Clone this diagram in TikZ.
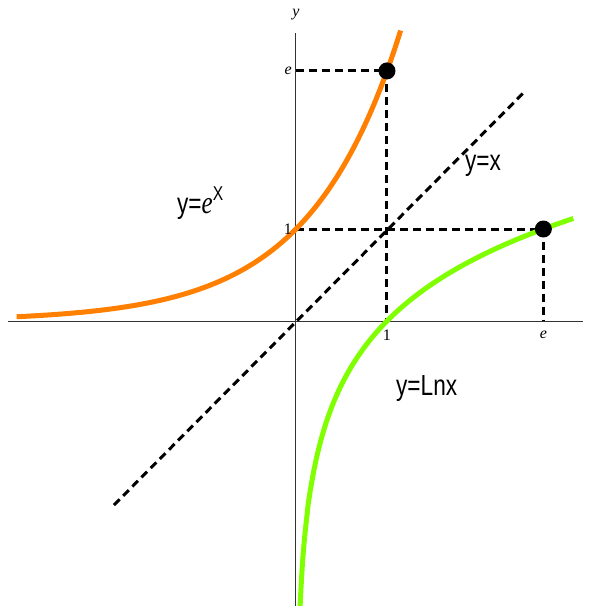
\documentclass[tikz,border=0pt]{standalone}
\usepackage{fontspec}
\setmainfont{Liberation Serif}
\newfontfamily\lblfont{Liberation Sans}
\definecolor{curveorange}{HTML}{FF7F00}
\definecolor{curvegreen}{HTML}{80FF00}
\tikzset{
  axisline/.style={line width=1pt, black!80},
  guide/.style={line width=3pt, dash pattern=on 8pt off 5pt, black},
  curveline/.style={line width=5pt, line cap=butt},
  pointdot/.style={circle, fill=black, inner sep=0pt, minimum size=17pt},
  ticklbl/.style={font=\fontsize{16}{16}\selectfont, inner sep=0pt},
  funclbl/.style={font=\fontsize{29}{29}\lblfont, xscale=0.78, anchor=base west, inner sep=0pt},
}
\begin{document}
\begin{tikzpicture}[x=91pt, y=92pt]
\useasboundingbox (-296pt,-285pt) rectangle (298pt,321pt);
\begin{scope}
\clip (-296pt,-285pt) rectangle (298pt,321pt);
% axes
\coordinate (xl) at (-288pt,0);
\coordinate (xr) at (287pt,0);
\coordinate (yb) at (0,-286pt);
\coordinate (yt) at (0,288pt);
\draw[axisline] (xl) -- (xr);
\draw[axisline] (yb) -- (yt);
% key points
\coordinate (O) at (0,0);
\coordinate (P1) at (1,2.71828);
\coordinate (P2) at (2.71828,1);
\coordinate (Ye) at (0,2.71828);
\coordinate (Y1) at (0,1);
\coordinate (X1) at (1,0);
\coordinate (Xe) at (2.71828,0);
\coordinate (Dstart) at (-2,-2);
\coordinate (Dend) at (2.52,2.5);
% guides
\draw[guide] (Dstart) -- (Dend);
\draw[guide] (Ye) -- (P1) -- (X1);
\draw[guide] (Y1) -- (P2) -- (Xe);
% curves
\draw[curveline, curveorange] plot[domain=-3.07:1.15, samples=150, smooth] (\x,{exp(\x)});
\draw[curveline, curvegreen] plot[domain=0.044:3.05, samples=200, smooth] (\x,{ln(\x)});
\end{scope}
% dots
\node[pointdot] (d1) at (P1) {};
\node[pointdot] (d2) at (P2) {};
% tick labels
\node[ticklbl, anchor=east] (te) at ([xshift=-4pt]Ye) {\itshape e};
\node[ticklbl, anchor=east] (t1) at ([xshift=-4pt]Y1) {1};
\node[ticklbl, anchor=north] (tx1) at ([yshift=-9pt]X1) {1};
\node[ticklbl, anchor=north] (txe) at ([yshift=-10pt]Xe) {\itshape e};
\node[ticklbl, anchor=center] (ylbl) at (0,306pt) {\itshape y};
% function labels
\node[funclbl] (lexp) at (-119pt,108pt) {y=\textit{\fontsize{32}{32}\fontspec{Liberation Serif}e}\raisebox{0.42em}{\fontsize{20}{20}\selectfont X}};
\node[funclbl] (lid) at (169pt,151pt) {y=x};
\node[funclbl] (lln) at (100pt,-74pt) {y=Lnx};
\end{tikzpicture}
\end{document}
